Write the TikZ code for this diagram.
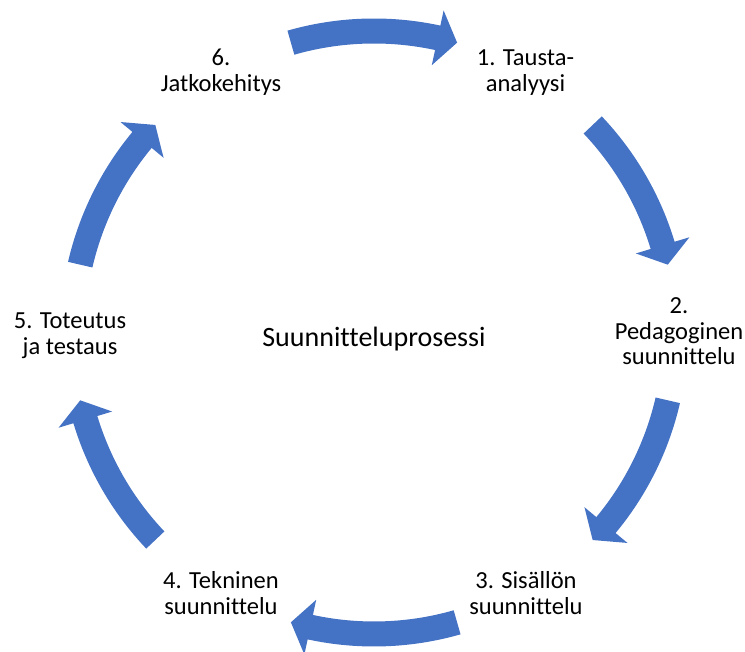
\documentclass[tikz,border=0pt]{standalone}
\usepackage{fontspec}
\setmainfont{Carlito}[Ligatures=NoCommon]
\definecolor{cycleblue}{HTML}{4472C4}

% radii of the ring of curved arrows (pt)
\def\rmid{301.5}
\def\rout{314}
\def\rin{289}
\def\rhout{329.5}
\def\rhin{273.5}

% curved block arrow running clockwise from angle #1 (tail) to angle #2 (tip)
\newcommand\cyclearrow[2]{%
  \pgfmathsetmacro\headbase{#2+3.8}%
  \fill[cycleblue]
    (#1:\rout) arc[start angle=#1, end angle=\headbase, radius=\rout]
    -- (\headbase:\rhout) -- (#2:\rmid) -- (\headbase:\rhin)
    -- (\headbase:\rin) arc[start angle=\headbase, end angle=#1, radius=\rin]
    -- cycle;}

\begin{document}
\begin{tikzpicture}[x=1pt, y=1pt,
    steplabel/.style={inner sep=0pt, align=center, text=black,
      font=\fontsize{24.5}{25.5}\selectfont},
    titlelabel/.style={inner sep=0pt, anchor=base, text=black,
      font=\fontsize{28}{32}\selectfont}]
  \useasboundingbox (0,0) rectangle (745,652);

  % ring of arrows around the centre of the cycle
  \begin{scope}[shift={(374,319.5)}]
    \cyclearrow{106}{74}
    \cyclearrow{43.5}{13}
    \cyclearrow{-13}{-43.5}
    \cyclearrow{-74}{-106}
    \cyclearrow{-136.5}{-167}
    \cyclearrow{167}{136.5}
  \end{scope}

  % step labels
  \node[steplabel] (s1) at (525.5,578.4) {\strut 1. Tausta-\\\strut analyysi};
  \node[steplabel] (s2) at (679,317.6) {\strut 2.\\\strut Pedagoginen\\\strut suunnittelu};
  \node[steplabel] (s3) at (526,55.4) {\strut 3. Sisällön\\\strut suunnittelu};
  \node[steplabel] (s4) at (221,55.4) {\strut 4. Tekninen\\\strut suunnittelu};
  \node[steplabel] (s5) at (70,315.4) {\strut 5. Toteutus\\\strut ja testaus};
  \node[steplabel] (s6) at (221,578.4) {\strut 6.\\\strut Jatkokehitys};

  % title in the middle
  \node[titlelabel] (title) at (374,305.5) {Suunnitteluprosessi};
\end{tikzpicture}
\end{document}
